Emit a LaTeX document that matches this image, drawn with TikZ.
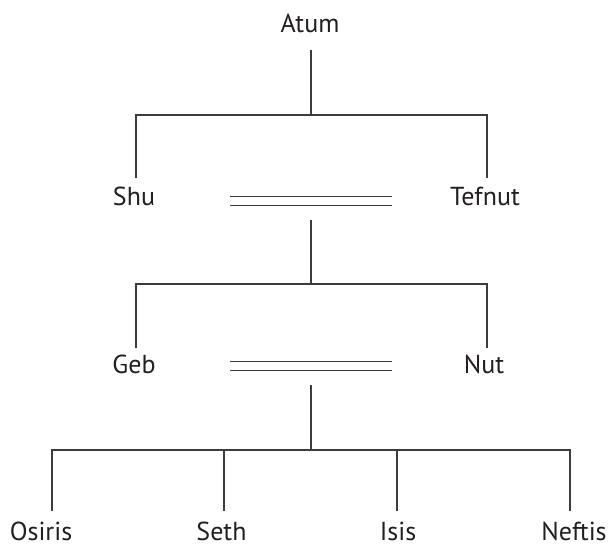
\documentclass[tikz,border=0pt]{standalone}
\usepackage{fontspec}
\setmainfont{PT Sans}
\definecolor{inkgray}{HTML}{3C3C3C}
\definecolor{inktext}{HTML}{231F20}
\tikzset{
  god/.style={anchor=base, inner sep=0pt, font=\fontsize{26}{30}\selectfont, text=inktext},
  kin/.style={draw=inkgray, line width=1.1pt},
  wed/.style={draw=inkgray, line width=0.9pt}
}
\begin{document}
\begin{tikzpicture}[x=1pt, y=-1pt]
\useasboundingbox (0,0) rectangle (610,548);
% Atum and his children
\node[god] (atum) at (310,32.5) {Atum};
\node[god] (shu) at (134,206) {Shu};
\node[god] (tefnut) at (485,206) {Tefnut};
\coordinate (atumB) at (311,50);
\coordinate (j1) at (311,115);
\coordinate (j1L) at (136,115);
\coordinate (j1R) at (487,115);
\coordinate (shuT) at (136,178);
\coordinate (tefnutT) at (487,178);
\draw[kin] (atumB) -- (j1);
\draw[kin] (shuT) -- (j1L) -- (j1R) -- (tefnutT);
% Shu = Tefnut
\coordinate (w1a) at (230,196);
\coordinate (w1b) at (392,196);
\coordinate (w1c) at (230,205);
\coordinate (w1d) at (392,205);
\draw[wed] (w1a) -- (w1b);
\draw[wed] (w1c) -- (w1d);
% Geb and Nut
\node[god] (geb) at (134,373) {Geb};
\node[god] (nut) at (484,373) {Nut};
\coordinate (w1B) at (311,220);
\coordinate (j2) at (311,284);
\coordinate (j2L) at (136,284);
\coordinate (j2R) at (487,284);
\coordinate (gebT) at (136,348);
\coordinate (nutT) at (487,348);
\draw[kin] (w1B) -- (j2);
\draw[kin] (gebT) -- (j2L) -- (j2R) -- (nutT);
% Geb = Nut
\coordinate (w2a) at (230,361);
\coordinate (w2b) at (392,361);
\coordinate (w2c) at (230,370);
\coordinate (w2d) at (392,370);
\draw[wed] (w2a) -- (w2b);
\draw[wed] (w2c) -- (w2d);
% their four children
\node[god] (osiris) at (41,540.5) {Osiris};
\node[god] (seth) at (221.5,540.5) {Seth};
\node[god] (isis) at (398,540.5) {Isis};
\node[god] (neftis) at (574,540.5) {Neftis};
\coordinate (w2B) at (311,385);
\coordinate (j3) at (311,450);
\coordinate (j3A) at (52,450);
\coordinate (j3B) at (224,450);
\coordinate (j3C) at (397,450);
\coordinate (j3D) at (570,450);
\coordinate (osirisT) at (52,511);
\coordinate (sethT) at (224,511);
\coordinate (isisT) at (397,511);
\coordinate (neftisT) at (570,511);
\draw[kin] (w2B) -- (j3);
\draw[kin] (osirisT) -- (j3A) -- (j3D) -- (neftisT);
\draw[kin] (j3B) -- (sethT);
\draw[kin] (j3C) -- (isisT);
\end{tikzpicture}
\end{document}
